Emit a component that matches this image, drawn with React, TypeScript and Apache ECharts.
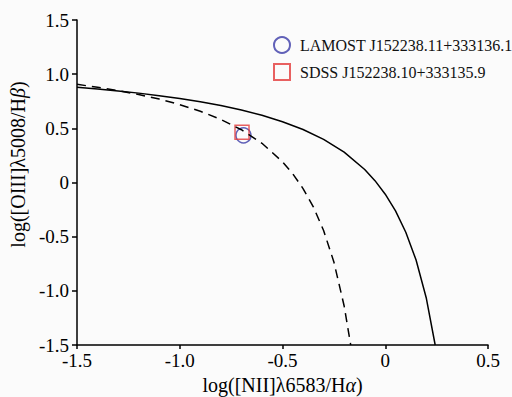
import React, { useEffect, useRef } from "react";
import * as echarts from "echarts";

// Kewley et al. (2001) maximum starburst line
const kewleyX = [-1.5, -1.4, -1.3, -1.2, -1.1, -1.0, -0.9, -0.8, -0.7, -0.6, -0.5, -0.4, -0.3, -0.2, -0.1, -0.05, 0.0, 0.05, 0.1, 0.15, 0.2, 0.243];
const kewleyY = [0.88, 0.864, 0.845, 0.825, 0.801, 0.775, 0.745, 0.71, 0.669, 0.62, 0.561, 0.489, 0.398, 0.28, 0.12, 0.017, -0.108, -0.262, -0.459, -0.716, -1.069, -1.5];

// Kauffmann et al. (2003) line (dashed)
const kauffX = [-1.5, -1.4, -1.3, -1.2, -1.1, -1.0, -0.9, -0.8, -0.7, -0.6, -0.5, -0.45, -0.4, -0.35, -0.3, -0.25, -0.2, -0.168];
const kauffY = [0.906, 0.879, 0.848, 0.812, 0.77, 0.719, 0.658, 0.582, 0.487, 0.362, 0.191, 0.08, -0.056, -0.225, -0.443, -0.733, -1.14, -1.5];

const lamostName = "LAMOST J152238.11+333136.1";
const sdssName = "SDSS J152238.10+333135.9";
const lamostPoint = [-0.69, 0.435];
const sdssPoint = [-0.697, 0.465];

const xTicks = { min: -1.5, max: 0.5, interval: 0.5 };
const yTicks = { min: -1.5, max: 1.5, interval: 0.5 };

const FONT = "Liberation Serif";

const fmt = (v: number) => (Math.abs(v) < 1e-9 ? "0" : v.toFixed(1));
const nameRich = {
  n: { fontFamily: FONT, fontSize: 20, color: "#000" },
  i: { fontFamily: FONT, fontSize: 20, fontStyle: "italic", color: "#000" },
};

export default function App() {
  const ref = useRef<HTMLDivElement>(null);
  useEffect(() => {
    if (!ref.current) return;
    const chart = echarts.init(ref.current, undefined, { renderer: "svg" });
    const zip = (xs: number[], ys: number[]) => xs.map((x, i) => [x, ys[i]]);
    chart.setOption({
      animation: false,
      backgroundColor: "#fbfbfb",
      grid: { left: 77, right: 24, top: 20, bottom: 52, containLabel: false, outerBoundsMode: "none" },
      legend: {
        orient: "vertical",
        left: 268,
        top: 31,
        itemWidth: 26,
        itemHeight: 16,
        itemGap: 9,
        data: [
          { name: lamostName, icon: "circle" },
          { name: sdssName, icon: "path://M0,0L10,0L10,10L0,10Z" },
        ],
        textStyle: { fontFamily: FONT, fontSize: 16, color: "#111" },
      },
      xAxis: {
        type: "value",
        min: xTicks.min,
        max: xTicks.max,
        interval: xTicks.interval,
        splitLine: { show: false },
        axisLine: { onZero: false, lineStyle: { color: "#000", width: 1.5 } },
        axisTick: { show: true, length: 4, lineStyle: { color: "#000", width: 1.5 } },
        axisLabel: { color: "#000", fontSize: 19, fontFamily: FONT, margin: 6, formatter: fmt },
        name: "{n|log([NII]λ6583/H}{i|α}{n|)}",
        nameLocation: "middle",
        nameGap: 30,
        nameTextStyle: { fontFamily: FONT, fontSize: 20, rich: nameRich },
      },
      yAxis: {
        type: "value",
        min: yTicks.min,
        max: yTicks.max,
        interval: yTicks.interval,
        splitLine: { show: false },
        axisLine: { onZero: false, lineStyle: { color: "#000", width: 1.5 } },
        axisTick: { show: true, length: 5, lineStyle: { color: "#000", width: 1.5 } },
        axisLabel: { color: "#000", fontSize: 19, fontFamily: FONT, margin: 8, formatter: fmt },
        name: "{n|log([OIII]λ5008/H}{i|β}{n|)}",
        nameLocation: "middle",
        nameGap: 47,
        nameTextStyle: { fontFamily: FONT, fontSize: 20, padding: [0, 0, 0, 36], rich: nameRich },
      },
      series: [
        {
          name: "Kewley",
          type: "line",
          data: zip(kewleyX, kewleyY),
          showSymbol: false,
          smooth: false,
          lineStyle: { color: "#000", width: 1.5 },
          silent: true,
        },
        {
          name: "Kauffmann",
          type: "line",
          data: zip(kauffX, kauffY),
          showSymbol: false,
          smooth: false,
          lineStyle: { color: "#000", width: 1.5, type: [9, 6] },
          silent: true,
        },
        {
          name: lamostName,
          type: "scatter",
          data: [lamostPoint],
          symbol: "circle",
          symbolSize: 15,
          itemStyle: { color: "rgba(0,0,0,0)", borderColor: "#3b3ba8", borderWidth: 1.5 },
        },
        {
          name: sdssName,
          type: "scatter",
          data: [sdssPoint],
          symbol: "rect",
          symbolSize: 14,
          itemStyle: { color: "rgba(0,0,0,0)", borderColor: "#e33a3a", borderWidth: 1.5 },
        },
      ],
    });
    return () => chart.dispose();
  }, []);
  return <div ref={ref} style={{ width: 512, height: 397, position: "absolute", left: 0, top: 0 }} />;
}
